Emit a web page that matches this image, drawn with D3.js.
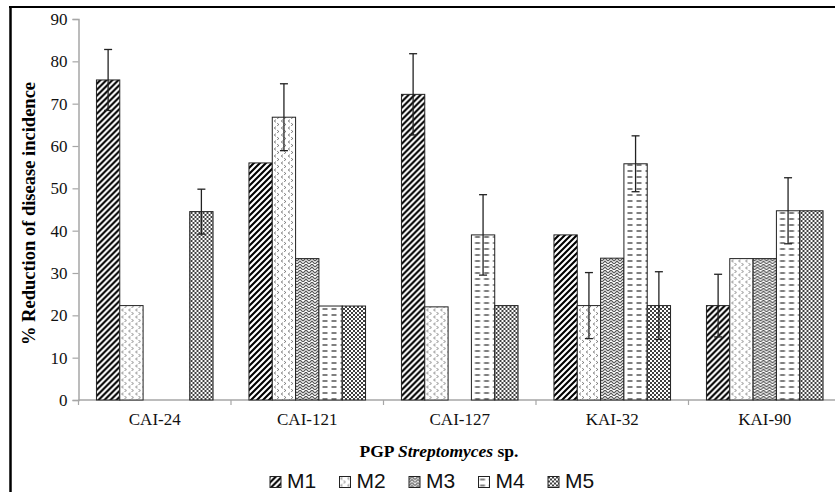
<!DOCTYPE html>
<html>
<head>
<meta charset="utf-8">
<script src="https://cdn.jsdelivr.net/npm/d3@7"></script>
<style>
  body { margin: 0; background: #fff; }
  svg { display: block; }
</style>
</head>
<body>
<div id="chart"></div>
<script>
// Data
const categories = ['CAI-24', 'CAI-121', 'CAI-127', 'KAI-32', 'KAI-90'];
const seriesNames = ['M1', 'M2', 'M3', 'M4', 'M5'];
const m1 = [75.6, 56.0, 72.2, 39.0, 22.3];
const m2 = [22.3, 66.8, 22.0, 22.3, 33.4];
const m3 = [0, 33.4, 0, 33.5, 33.4];
const m4 = [0, 22.2, 39.0, 55.8, 44.7];
const m5 = [44.5, 22.2, 22.3, 22.3, 44.7];
// error bar half-widths (0 = no error bar)
const m1Err = [7.2, 0, 9.6, 0, 7.4];
const m2Err = [0, 7.9, 0, 7.8, 0];
const m3Err = [0, 0, 0, 0, 0];
const m4Err = [0, 0, 9.5, 6.6, 7.8];
const m5Err = [5.3, 0, 0, 8.0, 0];
const yTicks = [0, 10, 20, 30, 40, 50, 60, 70, 80, 90];

const values = [m1, m2, m3, m4, m5];
const errors = [m1Err, m2Err, m3Err, m4Err, m5Err];

const width = 835, height = 492;
const svg = d3.select('#chart').append('svg')
  .attr('width', width)
  .attr('height', height);

// Fill patterns, one per series
const defs = svg.append('defs');

// M1: wide upward diagonal
const p1 = defs.append('pattern').attr('id', 'pat-M1')
  .attr('patternUnits', 'userSpaceOnUse').attr('width', 6).attr('height', 6);
p1.append('rect').attr('width', 6).attr('height', 6).attr('fill', '#fff');
p1.append('path').attr('d', 'M-1.5,1.5 L1.5,-1.5 M0,6 L6,0 M4.5,7.5 L7.5,4.5')
  .attr('stroke', '#000').attr('stroke-width', 2.1);

// M2: small gray chevrons
const p2 = defs.append('pattern').attr('id', 'pat-M2')
  .attr('patternUnits', 'userSpaceOnUse').attr('width', 7).attr('height', 7);
p2.append('rect').attr('width', 7).attr('height', 7).attr('fill', '#fff');
p2.append('path').attr('d', 'M2.8,0.8 L1.3,2 L2.8,3.2 M4.3,4.3 L5.8,5.5 L4.3,6.7')
  .attr('stroke', '#666').attr('stroke-width', 1).attr('fill', 'none');

// M3: gray zigzag weave
const p3 = defs.append('pattern').attr('id', 'pat-M3')
  .attr('patternUnits', 'userSpaceOnUse').attr('width', 6).attr('height', 6);
p3.append('rect').attr('width', 6).attr('height', 6).attr('fill', '#fff');
p3.append('path').attr('d', 'M0,3 L3,0 L6,3 M0,6 L3,3 L6,6')
  .attr('stroke', '#555').attr('stroke-width', 1.2).attr('fill', 'none');

// M4: horizontal dashes
const p4 = defs.append('pattern').attr('id', 'pat-M4')
  .attr('patternUnits', 'userSpaceOnUse').attr('width', 9).attr('height', 6);
p4.append('rect').attr('width', 9).attr('height', 6).attr('fill', '#fff');
p4.append('path').attr('d', 'M1.5,3 L6.5,3')
  .attr('stroke', '#000').attr('stroke-width', 1);

// M5: dense black dots
const p5 = defs.append('pattern').attr('id', 'pat-M5')
  .attr('patternUnits', 'userSpaceOnUse').attr('width', 4).attr('height', 4);
p5.append('rect').attr('width', 4).attr('height', 4).attr('fill', '#fff');
p5.append('circle').attr('cx', 1).attr('cy', 1).attr('r', 1).attr('fill', '#000');
p5.append('circle').attr('cx', 3).attr('cy', 3).attr('r', 1).attr('fill', '#000');

// Outer frame (left and top edges visible)
svg.append('line').attr('x1', 10.5).attr('x2', 10.5).attr('y1', 6).attr('y2', height)
  .attr('stroke', '#000').attr('stroke-width', 2.5);
svg.append('line').attr('x1', 9).attr('x2', width).attr('y1', 7).attr('y2', 7)
  .attr('stroke', '#000').attr('stroke-width', 2);

// Scales
const plotLeft = 78.5, plotRight = 841, plotTop = 19, plotBottom = 400;
const x0 = d3.scaleBand().domain(categories).range([plotLeft, plotRight]);
const x1 = d3.scaleBand().domain(seriesNames).range([0, x0.bandwidth()]).paddingOuter(0.77);
const y = d3.scaleLinear().domain([0, 90]).range([plotBottom, plotTop]);

const axisColor = '#a6a6a6';
const serif = '"Liberation Serif", "Times New Roman", serif';

// Y axis
const yAxis = svg.append('g')
  .attr('transform', `translate(${plotLeft},0)`)
  .call(d3.axisLeft(y).tickValues(yTicks).tickSize(6).tickPadding(5));
yAxis.select('.domain').attr('stroke', axisColor).attr('stroke-width', 1.5);
yAxis.selectAll('.tick line').attr('stroke', axisColor).attr('stroke-width', 1.2);
yAxis.selectAll('.tick text')
  .attr('font-family', serif).attr('font-size', 17).attr('fill', '#111');

// X axis: labels at category centers, ticks at category boundaries
const xAxis = svg.append('g')
  .attr('transform', `translate(0,${plotBottom})`)
  .call(d3.axisBottom(x0).tickSize(0).tickPadding(13));
xAxis.select('.domain').remove();
xAxis.selectAll('.tick text')
  .attr('font-family', serif).attr('font-size', 17).attr('fill', '#111');
xAxis.append('line').attr('x1', plotLeft).attr('x2', width)
  .attr('y1', 0).attr('y2', 0).attr('stroke', axisColor).attr('stroke-width', 1.5);
xAxis.selectAll('.boundary')
  .data(categories)
  .enter().append('line')
  .attr('class', 'boundary')
  .attr('x1', d => x0(d)).attr('x2', d => x0(d))
  .attr('y1', 0).attr('y2', 5)
  .attr('stroke', axisColor).attr('stroke-width', 1.2);

// Bars
const groups = svg.append('g').selectAll('g')
  .data(categories)
  .enter().append('g')
  .attr('transform', d => `translate(${x0(d)},0)`);

const cells = groups.selectAll('.cell')
  .data((c, ci) => seriesNames.map((s, si) => ({ s, v: values[si][ci], e: errors[si][ci] })))
  .enter().append('g').attr('class', 'cell');

cells.filter(d => d.v > 0).append('rect')
  .attr('x', d => x1(d.s))
  .attr('width', x1.bandwidth())
  .attr('y', d => y(d.v))
  .attr('height', d => y(0) - y(d.v))
  .attr('fill', d => `url(#pat-${d.s})`)
  .attr('stroke', '#222')
  .attr('stroke-width', 1);

// Error bars
const err = cells.filter(d => d.e > 0).append('g')
  .attr('stroke', '#222').attr('stroke-width', 1.3);
const cx = d => x1(d.s) + x1.bandwidth() / 2;
err.append('line')
  .attr('x1', cx).attr('x2', cx)
  .attr('y1', d => y(d.v + d.e)).attr('y2', d => y(d.v - d.e));
err.append('line')
  .attr('x1', d => cx(d) - 4).attr('x2', d => cx(d) + 4)
  .attr('y1', d => y(d.v + d.e)).attr('y2', d => y(d.v + d.e));
err.append('line')
  .attr('x1', d => cx(d) - 4).attr('x2', d => cx(d) + 4)
  .attr('y1', d => y(d.v - d.e)).attr('y2', d => y(d.v - d.e));

// Axis titles
svg.append('text')
  .attr('transform', `translate(35,${(plotTop + plotBottom) / 2 + 4}) rotate(-90)`)
  .attr('text-anchor', 'middle')
  .attr('font-family', serif).attr('font-size', 18.5).attr('font-weight', 'bold')
  .text('% Reduction of disease incidence');

const xTitle = svg.append('text')
  .attr('x', 439).attr('y', 457)
  .attr('text-anchor', 'middle')
  .attr('font-family', serif).attr('font-size', 17.5).attr('font-weight', 'bold');
xTitle.append('tspan').text('PGP ');
xTitle.append('tspan').attr('font-style', 'italic').text('Streptomyces');
xTitle.append('tspan').text(' sp.');

// Legend
const legend = svg.append('g').attr('transform', 'translate(270,476.5)');
const item = legend.selectAll('g')
  .data(seriesNames)
  .enter().append('g')
  .attr('transform', (d, i) => `translate(${i * 69.5},0)`);
item.append('rect')
  .attr('width', 11).attr('height', 11)
  .attr('fill', d => `url(#pat-${d})`)
  .attr('stroke', '#222').attr('stroke-width', 1);
item.append('text')
  .attr('x', 17).attr('y', 11.5)
  .attr('font-family', '"Liberation Sans", Arial, sans-serif')
  .attr('font-size', 21).attr('fill', '#111')
  .text(d => d);
</script>
</body>
</html>
